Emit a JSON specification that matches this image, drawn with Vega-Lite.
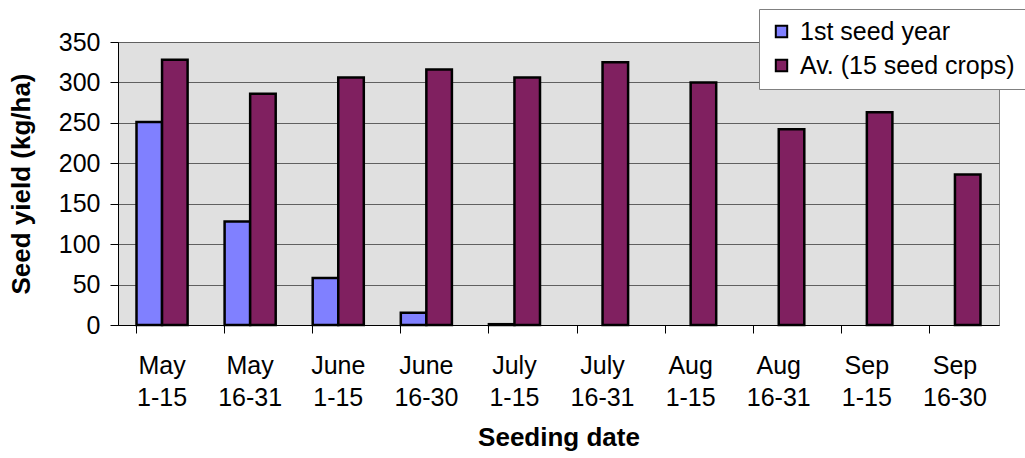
{
  "$schema": "https://vega.github.io/schema/vega-lite/v6.json",
  "width": 881,
  "height": 283,
  "autosize": "none",
  "padding": {"left": 118, "top": 42, "right": 26, "bottom": 133},
  "background": "white",
  "config": {
    "font": "Liberation Sans",
    "view": {"fill": "#E0E0E0", "stroke": "#808080", "strokeWidth": 1}
  },
  "data": {
    "values": [
      {"date": "May 1-15", "series": "1st seed year", "yield": 251},
      {"date": "May 1-15", "series": "Av. (15 seed crops)", "yield": 328},
      {"date": "May 16-31", "series": "1st seed year", "yield": 128},
      {"date": "May 16-31", "series": "Av. (15 seed crops)", "yield": 286},
      {"date": "June 1-15", "series": "1st seed year", "yield": 58},
      {"date": "June 1-15", "series": "Av. (15 seed crops)", "yield": 306},
      {"date": "June 16-30", "series": "1st seed year", "yield": 15},
      {"date": "June 16-30", "series": "Av. (15 seed crops)", "yield": 316},
      {"date": "July 1-15", "series": "1st seed year", "yield": 1},
      {"date": "July 1-15", "series": "Av. (15 seed crops)", "yield": 306},
      {"date": "July 16-31", "series": "Av. (15 seed crops)", "yield": 325},
      {"date": "Aug 1-15", "series": "Av. (15 seed crops)", "yield": 300},
      {"date": "Aug 16-31", "series": "Av. (15 seed crops)", "yield": 242},
      {"date": "Sep 1-15", "series": "Av. (15 seed crops)", "yield": 263},
      {"date": "Sep 16-30", "series": "Av. (15 seed crops)", "yield": 186}
    ]
  },
  "mark": {"type": "bar", "stroke": "black", "strokeWidth": 2.5, "strokeJoin": "miter"},
  "encoding": {
    "x": {
      "field": "date",
      "type": "nominal",
      "sort": null,
      "scale": {"paddingInner": 0.42, "paddingOuter": 0.21},
      "axis": {
        "title": "Seeding date",
        "titleFont": "Liberation Sans",
        "titleFontSize": 26,
        "titleFontWeight": "bold",
        "titleColor": "black",
        "titlePadding": 14,
        "labelAngle": 0,
        "labelFontSize": 25,
        "labelColor": "black",
        "labelLineHeight": 32,
        "labelExpr": "split(datum.label, ' ')",
        "labelDx": 44,
        "labelPadding": 20,
        "labelLimit": 0,
        "bandPosition": 0,
        "tickSize": 8,
        "tickColor": "black",
        "domainColor": "black",
        "domainWidth": 1,
        "grid": false
      }
    },
    "xOffset": {
      "field": "series",
      "type": "nominal",
      "sort": ["1st seed year", "Av. (15 seed crops)"],
      "scale": {"domain": ["1st seed year", "Av. (15 seed crops)"], "paddingInner": 0, "paddingOuter": 0}
    },
    "y": {
      "field": "yield",
      "type": "quantitative",
      "scale": {"domain": [0, 350], "nice": false},
      "axis": {
        "title": "Seed yield (kg/ha)",
        "titleFont": "Liberation Sans",
        "titleFontSize": 26,
        "titleFontWeight": "bold",
        "titleColor": "black",
        "titlePadding": 24,
        "values": [0, 50, 100, 150, 200, 250, 300, 350],
        "labelFontSize": 25,
        "labelColor": "black",
        "labelPadding": 10,
        "tickSize": 8,
        "tickColor": "black",
        "domainColor": "black",
        "grid": true,
        "gridColor": "#606060",
        "gridWidth": 1
      }
    },
    "color": {
      "field": "series",
      "type": "nominal",
      "scale": {"domain": ["1st seed year", "Av. (15 seed crops)"], "range": ["#8080FF", "#802060"]},
      "legend": {
        "title": null,
        "orient": "none",
        "legendX": 641,
        "legendY": -33,
        "fillColor": "white",
        "strokeColor": "#808080",
        "padding": 10,
        "symbolType": "square",
        "symbolSize": 130,
        "symbolStrokeColor": "black",
        "symbolStrokeWidth": 2,
        "symbolOpacity": 1,
        "labelFontSize": 25,
        "labelColor": "black",
        "labelOffset": 6,
        "labelLimit": 0,
        "rowPadding": 8
      }
    }
  }
}
